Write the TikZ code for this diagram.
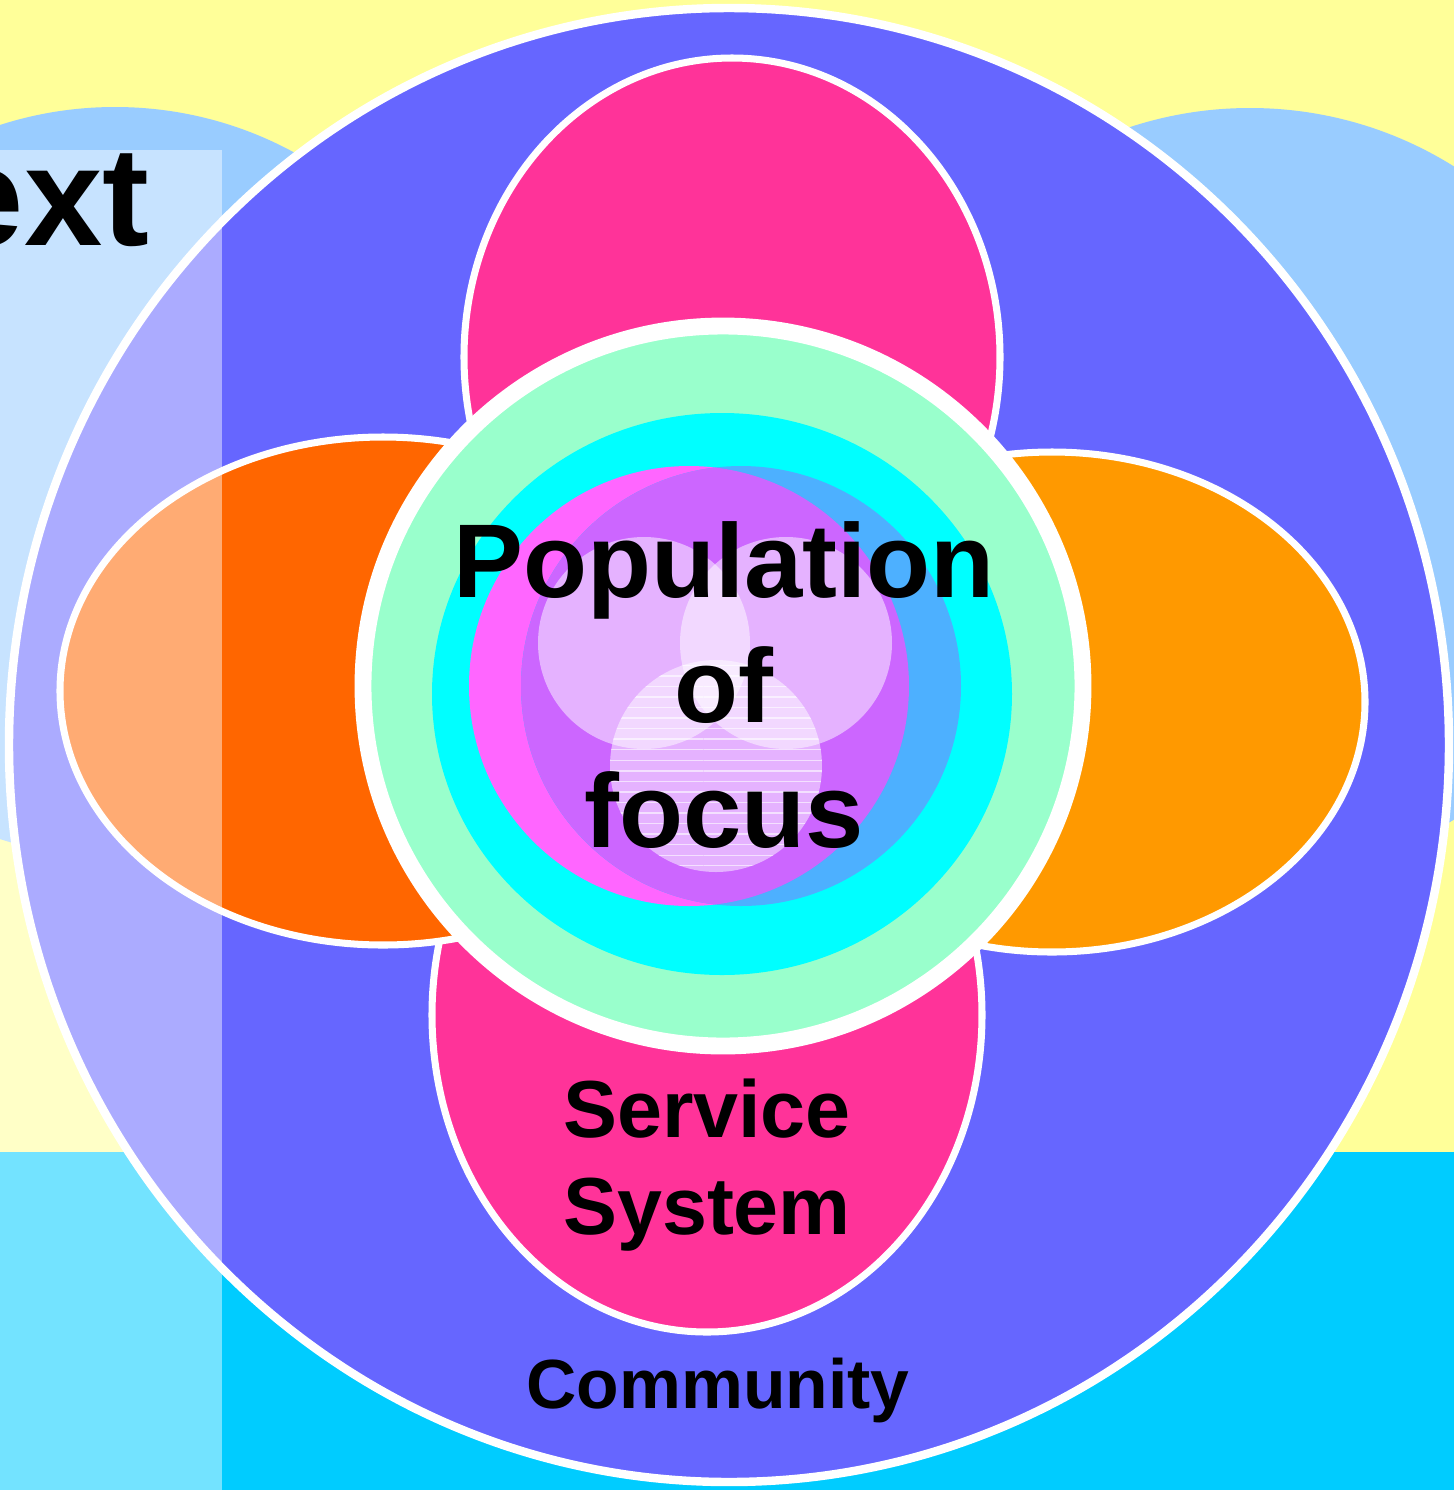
\documentclass[tikz,border=0pt]{standalone}
\usepackage{fontspec}
\setmainfont{Liberation Sans}
\usetikzlibrary{patterns}
\definecolor{ctxyellow}{HTML}{FFFF99}
\definecolor{ctxlight}{HTML}{99CCFF}
\definecolor{ctxcyan}{HTML}{00CCFF}
\definecolor{community}{HTML}{6666FF}
\definecolor{service}{HTML}{FF3399}
\definecolor{leftpetal}{HTML}{FF6600}
\definecolor{rightpetal}{HTML}{FF9900}
\definecolor{mint}{HTML}{99FFCC}
\definecolor{aqua}{HTML}{00FFFF}
\definecolor{popa}{HTML}{FF66FF}
\definecolor{popb}{HTML}{4DB0FF}
\definecolor{popab}{HTML}{CC66FF}

\begin{document}
\begin{tikzpicture}[
      x = 0.01cm, y = -0.01cm,
 rim/.style = {draw=white, line width=2pt},
venn/.style = {fill=white, fill opacity=0.5},
 txt/.style = {font=\bfseries, text=black, align=center, inner sep=0pt}
                   ]
\useasboundingbox (0,0) rectangle (1454,1490);
\clip (0,0) rectangle (1454,1490);
% background
\fill[ctxyellow] (0,0) rectangle (1454,1490);
\fill[ctxlight] (115,482) circle [radius=375];
\fill[ctxlight] (1250,493) circle [radius=385];
\fill[ctxcyan] (0,1152) rectangle (1454,1490);
% community
\filldraw[community, draw=white, line width=2.4pt] (729,745) ellipse [x radius=720, y radius=737];
% petals
\filldraw[service, rim] (732,357) ellipse [x radius=268, y radius=299];
\filldraw[service, rim] (707,1015) ellipse [x radius=275, y radius=317];
\filldraw[leftpetal, rim] (383,691) ellipse [x radius=323, y radius=254];
\filldraw[rightpetal, rim] (1052,702) ellipse [x radius=313, y radius=250];
% population rings
\filldraw[mint, draw=white, line width=4.8pt] (723,686) circle [radius=360];
\fill[aqua] (722,694) ellipse [x radius=290, y radius=281];
\fill[popa] (689,686) circle [radius=220];
\fill[popb] (741,686) circle [radius=220];
\begin{scope}
  \clip (689,686) circle [radius=220];
  \fill[popab] (741,686) circle [radius=220];
\end{scope}
\fill[venn] (644,643) circle [radius=106];
\fill[venn] (786,643) circle [radius=106];
\fill[venn] (716,766) circle [radius=106];
\fill[pattern=horizontal lines, pattern color=white, opacity=0.6] (716,766) circle [radius=106];
% labels
\node[txt, font=\bfseries\fontsize{29.8}{35.6}\selectfont] (pop) at (724,685) {Population\\of\\focus};
\node[txt, font=\bfseries\fontsize{23}{27.6}\selectfont] (svc) at (707,1165) {Service\\System};
\node[txt, font=\bfseries\fontsize{19.8}{24}\selectfont] (com) at (718,1390) {Community};
% context veil
\fill[white, fill opacity=0.45] (0,150) rectangle (222,1490);
\node[txt, font=\bfseries\fontsize{40}{48}\selectfont, anchor=base east] (ctx) at (150,245) {ext};
\end{tikzpicture}
\end{document}
